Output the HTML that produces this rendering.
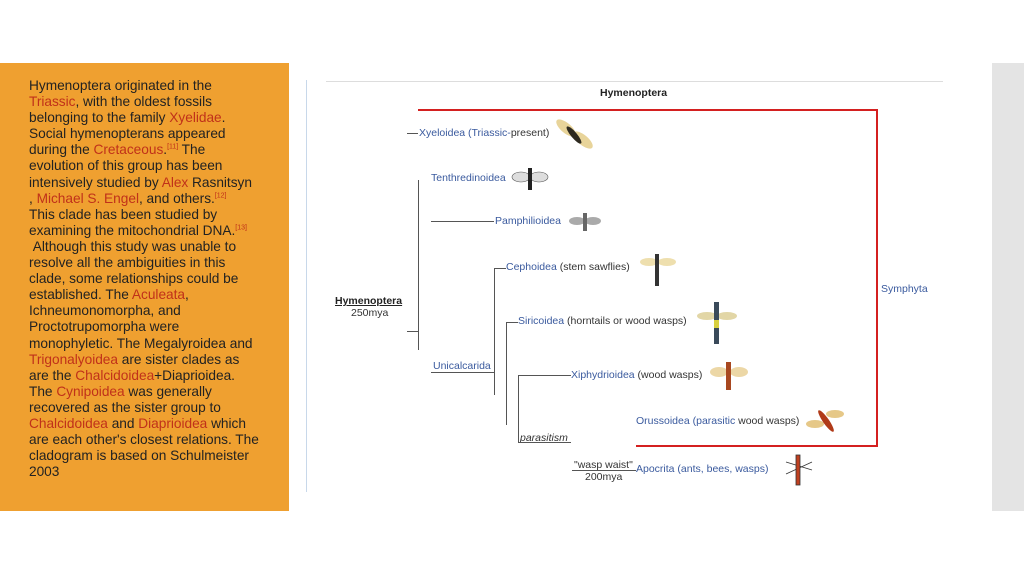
<!DOCTYPE html>
<html><head><meta charset="utf-8"><style>
body{margin:0;width:1024px;height:576px;background:#fff;position:relative;overflow:hidden;font-family:"Liberation Sans",sans-serif}
.or{position:absolute;left:0;top:63px;width:289px;height:448px;background:#efa030}
.gr{position:absolute;left:992px;top:63px;width:32px;height:448px;background:#e4e4e4}
.tx{position:absolute;left:29px;top:78px;width:260px;font-size:13.7px;line-height:16.1px;color:#222;letter-spacing:-0.02px;white-space:nowrap}
.r{color:#c0311a}
sup{font-size:7px;color:#c0311a;line-height:0}
.t{position:absolute;font-size:10.5px;color:#333;white-space:nowrap;line-height:12px}
.b{color:#3a5a9e}
.l{position:absolute;background:#555}
.rd{position:absolute;background:#d42020}
</style></head><body>
<div class="or"></div><div class="gr"></div>
<div class="tx">Hymenoptera originated in the<br><span class="r">Triassic</span>, with the oldest fossils<br>belonging to the family <span class="r">Xyelidae</span>.<br>Social hymenopterans appeared<br>during the <span class="r">Cretaceous</span>.<sup>[11]</sup> The<br>evolution of this group has been<br>intensively studied by <span class="r">Alex</span> Rasnitsyn<br>, <span class="r">Michael S. Engel</span>, and others.<sup>[12]</sup><br>This clade has been studied by<br>examining the mitochondrial DNA.<sup>[13]</sup><br>&nbsp;Although this study was unable to<br>resolve all the ambiguities in this<br>clade, some relationships could be<br>established. The <span class="r">Aculeata</span>,<br>Ichneumonomorpha, and<br>Proctotrupomorpha were<br>monophyletic. The Megalyroidea and<br><span class="r">Trigonalyoidea</span> are sister clades as<br>are the <span class="r">Chalcidoidea</span>+Diaprioidea.<br>The <span class="r">Cynipoidea</span> was generally<br>recovered as the sister group to<br><span class="r">Chalcidoidea</span> and <span class="r">Diaprioidea</span> which<br>are each other's closest relations. The<br>cladogram is based on Schulmeister<br>2003</div>

<div style="position:absolute;left:306px;top:80px;width:1px;height:412px;background:#c8d8ea"></div>
<div style="position:absolute;left:326px;top:81px;width:617px;height:1px;background:#ddd"></div>
<div class="t" style="left:600px;top:87px;font-weight:bold;color:#222">Hymenoptera</div>

<div class="rd" style="left:418px;top:109px;width:460px;height:2px"></div>
<div class="rd" style="left:876px;top:109px;width:2px;height:338px"></div>
<div class="rd" style="left:636px;top:445px;width:242px;height:2px"></div>
<div class="t b" style="left:881px;top:283px">Symphyta</div>

<div class="l" style="left:407px;top:133px;width:11px;height:1px"></div>
<div class="t b" style="left:419px;top:127px">Xyeloidea (Triassic-<span style="color:#333">present)</span></div>

<div class="l" style="left:418px;top:180px;width:1px;height:170px"></div>
<div class="t" style="left:335px;top:295px;font-weight:bold;text-decoration:underline;color:#222">Hymenoptera</div>
<div class="t" style="left:351px;top:307px">250mya</div>
<div class="l" style="left:407px;top:331px;width:11px;height:1px"></div>

<div class="t b" style="left:431px;top:172px">Tenthredinoidea</div>
<div class="l" style="left:431px;top:221px;width:63px;height:1px"></div>
<div class="t b" style="left:495px;top:215px">Pamphilioidea</div>

<div class="t b" style="left:433px;top:360px">Unicalcarida</div>
<div class="l" style="left:431px;top:372px;width:63px;height:1px"></div>
<div class="l" style="left:494px;top:268px;width:1px;height:127px"></div>
<div class="l" style="left:494px;top:268px;width:12px;height:1px"></div>
<div class="t" style="left:506px;top:261px"><span class="b">Cephoidea</span> (stem sawflies)</div>

<div class="l" style="left:506px;top:322px;width:1px;height:103px"></div>
<div class="l" style="left:506px;top:322px;width:12px;height:1px"></div>
<div class="t" style="left:518px;top:315px"><span class="b">Siricoidea</span> (horntails or wood wasps)</div>

<div class="l" style="left:518px;top:375px;width:1px;height:68px"></div>
<div class="l" style="left:518px;top:375px;width:53px;height:1px"></div>
<div class="t" style="left:571px;top:369px"><span class="b">Xiphydrioidea</span> (wood wasps)</div>
<div class="t" style="left:520px;top:432px;font-style:italic">parasitism</div>
<div class="l" style="left:518px;top:442px;width:53px;height:1px"></div>
<div class="t" style="left:636px;top:415px"><span class="b">Orussoidea (parasitic</span> wood wasps)</div>

<div class="t" style="left:574px;top:459px">"wasp waist"</div>
<div class="l" style="left:572px;top:470px;width:64px;height:1px"></div>
<div class="t" style="left:585px;top:471px">200mya</div>
<div class="t" style="left:636px;top:463px"><span class="b">Apocrita (ants, bees, wasps)</span></div>

<svg width="1024" height="576" style="position:absolute;left:0;top:0">
<g><ellipse cx="566" cy="128" rx="12" ry="5" fill="#e8d49a" transform="rotate(40 566 128)"/><ellipse cx="583" cy="140" rx="12" ry="5" fill="#e8d49a" transform="rotate(40 583 140)"/><ellipse cx="574" cy="135" rx="3" ry="11" fill="#2e2a20" transform="rotate(-40 574 135)"/></g>
<g><ellipse cx="521" cy="177" rx="9" ry="5" fill="#ddd" stroke="#555" stroke-width=".6"/><ellipse cx="539" cy="177" rx="9" ry="5" fill="#ddd" stroke="#555" stroke-width=".6"/><rect x="528" y="168" width="4" height="22" fill="#222"/></g>
<g><ellipse cx="577" cy="221" rx="8" ry="4" fill="#aaa"/><ellipse cx="593" cy="221" rx="8" ry="4" fill="#aaa"/><rect x="583" y="213" width="4" height="18" fill="#666"/></g>
<g><ellipse cx="649" cy="262" rx="9" ry="4" fill="#eedfae"/><ellipse cx="667" cy="262" rx="9" ry="4" fill="#eedfae"/><rect x="655" y="254" width="4" height="32" fill="#333"/></g>
<g><ellipse cx="707" cy="316" rx="10" ry="4" fill="#e2d6a6"/><ellipse cx="727" cy="316" rx="10" ry="4" fill="#e2d6a6"/><rect x="714" y="302" width="5" height="42" fill="#3a4a5a"/><rect x="714" y="320" width="5" height="8" fill="#d8d040"/></g>
<g><ellipse cx="719" cy="372" rx="9" ry="5" fill="#ecd7a6"/><ellipse cx="739" cy="372" rx="9" ry="5" fill="#ecd7a6"/><rect x="726" y="362" width="5" height="28" fill="#a84820"/></g>
<g><ellipse cx="815" cy="424" rx="9" ry="4" fill="#e6c888"/><ellipse cx="835" cy="414" rx="9" ry="4" fill="#e6c888"/><ellipse cx="826" cy="421" rx="3" ry="13" fill="#b03a18" transform="rotate(-35 826 421)"/></g>
<g stroke="#333" stroke-width=".8"><line x1="786" y1="462" x2="812" y2="470"/><line x1="786" y1="474" x2="812" y2="462"/><rect x="796" y="455" width="4" height="30" fill="#c04020"/></g>
</svg>
</body></html>
